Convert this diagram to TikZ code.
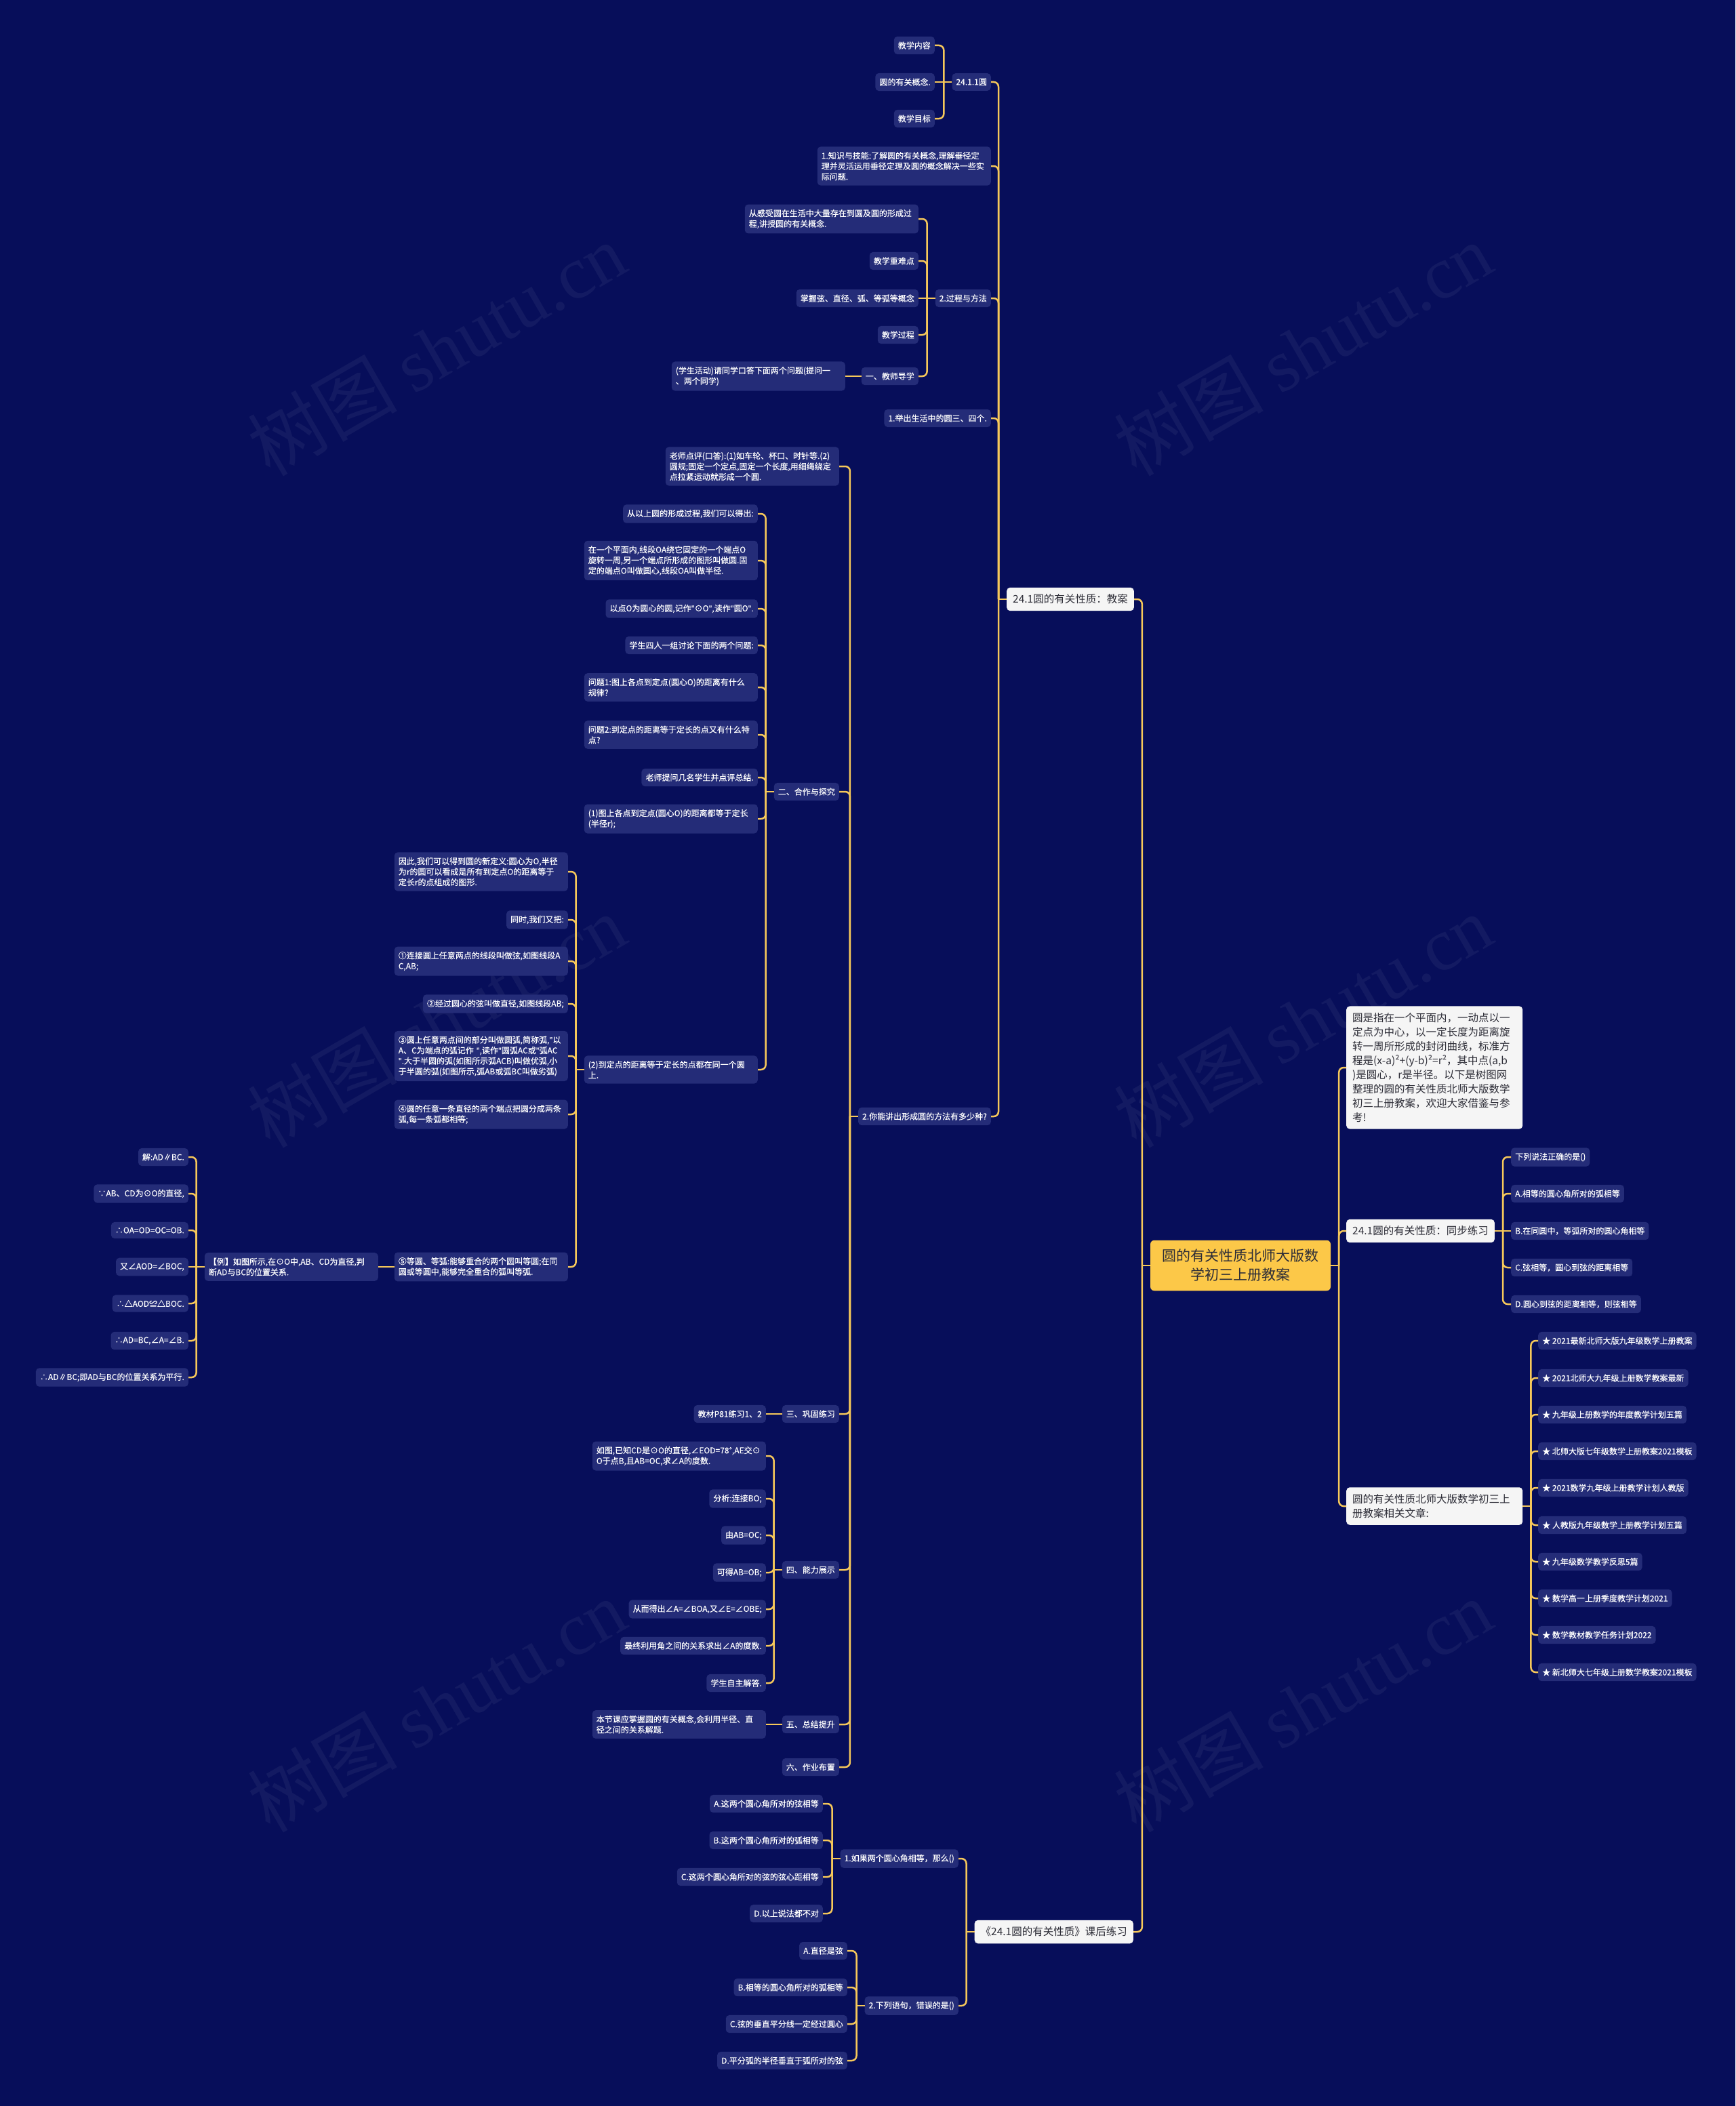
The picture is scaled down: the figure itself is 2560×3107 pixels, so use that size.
\documentclass[tikz,border=0pt]{standalone}
\usepackage{fontspec}
\setmainfont{Noto Sans CJK SC}
\newfontfamily\nf{Noto Sans CJK SC}[FakeBold=0.3]
\newfontfamily\latinf{Noto Sans}[FakeBold=0.3]
\newfontfamily\wmfont{Liberation Serif}
\newcommand\dq{{\latinf\symbol{34}}}
\definecolor{bg}{RGB}{7,14,90}
\definecolor{nodebg}{RGB}{36,44,120}
\definecolor{ln}{RGB}{246,200,90}
\definecolor{rootbg}{RGB}{252,200,72}
\definecolor{wbg}{RGB}{245,245,245}
\definecolor{dark}{RGB}{45,45,55}
\newcommand\linkL[2]{\draw[conn] (#2.east) -| ([xshift=-12pt]#1.west);}
\newcommand\linkR[2]{\draw[conn] (#2.west) -| ([xshift=12pt]#1.east);}
\newcommand\linkSL[2]{\draw[conn] (#2.east) -- ([xshift=-12pt]#1.west);}
\newcommand\linkSR[2]{\draw[conn] (#2.west) -- ([xshift=12pt]#1.east);}
\newcommand\stemL[1]{\draw[conn] (#1.west) -- ([xshift=-12pt]#1.west);}
\newcommand\stemR[1]{\draw[conn] (#1.east) -- ([xshift=12pt]#1.east);}
\begin{document}
\begin{tikzpicture}[x=1pt,y=-1pt,
 box/.style={fill=nodebg,text=white,rounded corners=5pt,inner xsep=6pt,inner ysep=7.5pt,font=\nf\fontsize{12}{15.5}\selectfont},
 lbox/.style={box,anchor=east},
 rbox/.style={box,anchor=west},
 wide/.style={text width=244pt,align=left},
 wnode/.style={fill=wbg,text=dark,rounded corners=5pt,inner xsep=9pt,inner ysep=10pt,font=\fontsize{15.5}{21}\selectfont},
 rootst/.style={fill=rootbg,text=dark,rounded corners=6pt,text width=232pt,align=center,inner xsep=17pt,inner ysep=13.5pt,font=\fontsize{21}{28}\selectfont},
 conn/.style={draw=ln,line width=2.5pt,rounded corners=7pt},
 wm/.style={text=white,opacity=0.05,rotate=30,font=\fontsize{110}{110}\selectfont}
]
\useasboundingbox (0,0) rectangle (2560,3107);
\fill[bg] (0,0) rectangle (2560,3107);
% watermarks
\node[wm] (wm1) at (644,515) {树图 {\wmfont shutu.cn}};
\node[wm] (wm2) at (1922,515) {树图 {\wmfont shutu.cn}};
\node[wm] (wm3) at (644,1506) {树图 {\wmfont shutu.cn}};
\node[wm] (wm4) at (1922,1506) {树图 {\wmfont shutu.cn}};
\node[wm] (wm5) at (644,2516) {树图 {\wmfont shutu.cn}};
\node[wm] (wm6) at (1922,2516) {树图 {\wmfont shutu.cn}};

% root
\node[rootst] (root) at (1830,1867) {圆的有关性质北师大版数\\学初三上册教案};

% main branches
\node[wnode,anchor=east] (ja) at (1673,884) {24.1圆的有关性质：教案};
\node[wnode,anchor=east] (kh) at (1672,2850) {《24.1圆的有关性质》课后练习};
\node[wnode,anchor=west,text width=242pt,align=left] (ys) at (1986,1575) {圆是指在一个平面内，一动点以一\\定点为中心，以一定长度为距离旋\\转一周所形成的封闭曲线，标准方\\程是(x-a)²+(y-b)²=r²，其中点(a,b\\)是圆心，r是半径。以下是树图网\\整理的圆的有关性质北师大版数学\\初三上册教案，欢迎大家借鉴与参\\考!};
\node[wnode,anchor=west] (tb) at (1986,1816) {24.1圆的有关性质：同步练习};
\node[wnode,anchor=west,text width=242pt,align=left] (xg) at (1986,2222) {圆的有关性质北师大版数学初三上\\册教案相关文章:};

% under 教案
\node[lbox] (a1) at (1462,121) {24.1.1圆};
\node[lbox] (a11) at (1379,67) {教学内容};
\node[lbox] (a12) at (1379,121) {圆的有关概念.};
\node[lbox] (a13) at (1379,175) {教学目标};
\node[lbox,wide] (a2) at (1462,245) {1.知识与技能:了解圆的有关概念,理解垂径定\\理并灵活运用垂径定理及圆的概念解决一些实\\际问题.};
\node[lbox] (a3) at (1462,440) {2.过程与方法};
\node[lbox,wide] (a31) at (1355,323) {从感受圆在生活中大量存在到圆及圆的形成过\\程,讲授圆的有关概念.};
\node[lbox] (a32) at (1355,385) {教学重难点};
\node[lbox] (a33) at (1355,440) {掌握弦、直径、弧、等弧等概念};
\node[lbox] (a34) at (1355,494) {教学过程};
\node[lbox] (a35) at (1355,555) {一、教师导学};
\node[lbox,wide] (a351) at (1247,555) {(学生活动)请同学口答下面两个问题(提问一\\、两个同学)};
\node[lbox] (a4) at (1462,617) {1.举出生活中的圆三、四个.};
\node[lbox] (a5) at (1462,1647) {2.你能讲出形成圆的方法有多少种?};

% under a5
\node[lbox,wide] (b1) at (1238,688) {老师点评(口答):(1)如车轮、杯口、时针等.(2)\\圆规;固定一个定点,固定一个长度,用细绳绕定\\点拉紧运动就形成一个圆.};
\node[lbox] (b2) at (1238,1168) {二、合作与探究};
\node[lbox] (b3) at (1238,2086) {三、巩固练习};
\node[lbox] (b4) at (1238,2316) {四、能力展示};
\node[lbox] (b5) at (1238,2544) {五、总结提升};
\node[lbox] (b6) at (1238,2607) {六、作业布置};

% under b2
\node[lbox] (c1) at (1118,758) {从以上圆的形成过程,我们可以得出:};
\node[lbox,wide] (c2) at (1118,827) {在一个平面内,线段OA绕它固定的一个端点O\\旋转一周,另一个端点所形成的图形叫做圆.固\\定的端点O叫做圆心,线段OA叫做半径.};
\node[lbox] (c3) at (1118,898) {以点O为圆心的圆,记作\dq⊙O\dq,读作\dq 圆O\dq.};
\node[lbox] (c4) at (1118,952) {学生四人一组讨论下面的两个问题:};
\node[lbox,wide] (c5) at (1118,1014) {问题1:图上各点到定点(圆心O)的距离有什么\\规律?};
\node[lbox,wide] (c6) at (1118,1084) {问题2:到定点的距离等于定长的点又有什么特\\点?};
\node[lbox] (c7) at (1118,1147) {老师提问几名学生并点评总结.};
\node[lbox,wide] (c8) at (1118,1208) {(1)图上各点到定点(圆心O)的距离都等于定长\\(半径r);};
\node[lbox,wide] (c9) at (1118,1578) {(2)到定点的距离等于定长的点都在同一个圆\\上.};

% under c9
\node[lbox,wide] (d1) at (838,1286) {因此,我们可以得到圆的新定义:圆心为O,半径\\为r的圆可以看成是所有到定点O的距离等于\\定长r的点组成的图形.};
\node[lbox] (d2) at (838,1357) {同时,我们又把:};
\node[lbox,wide] (d3) at (838,1418) {①连接圆上任意两点的线段叫做弦,如图线段A\\C,AB;};
\node[lbox] (d4) at (838,1481) {②经过圆心的弦叫做直径,如图线段AB;};
\node[lbox,wide] (d5) at (838,1558) {③圆上任意两点间的部分叫做圆弧,简称弧,\dq 以\\A、C为端点的弧记作~\dq,读作\dq 圆弧AC或\dq 弧AC\\\dq.大于半圆的弧(如图所示弧ACB)叫做优弧,小\\于半圆的弧(如图所示,弧AB或弧BC叫做劣弧)};
\node[lbox,wide] (d6) at (838,1644) {④圆的任意一条直径的两个端点把圆分成两条\\弧,每一条弧都相等;};
\node[lbox,wide] (d7) at (838,1869) {⑤等圆、等弧:能够重合的两个圆叫等圆;在同\\圆或等圆中,能够完全重合的弧叫等弧.};

% example
\node[lbox,wide] (e) at (558,1869) {【例】如图所示,在⊙O中,AB、CD为直径,判\\断AD与BC的位置关系.};
\node[lbox] (f1) at (278,1707) {解:AD∥BC.};
\node[lbox] (f2) at (278,1761) {∵AB、CD为⊙O的直径,};
\node[lbox] (f3) at (278,1815) {∴OA=OD=OC=OB.};
\node[lbox] (f4) at (278,1869) {又∠AOD=∠BOC,};
\node[lbox] (f5) at (278,1923) {∴△AOD≌△BOC.};
\node[lbox] (f6) at (278,1978) {∴AD=BC,∠A=∠B.};
\node[lbox] (f7) at (278,2032) {∴AD∥BC;即AD与BC的位置关系为平行.};

% under b3,b4,b5
\node[lbox] (g1) at (1130,2086) {教材P81练习1、2};
\node[lbox,wide] (h1) at (1130,2148) {如图,已知CD是⊙O的直径,∠EOD=78°,AE交⊙\\O于点B,且AB=OC,求∠A的度数.};
\node[lbox] (h2) at (1130,2211) {分析:连接BO;};
\node[lbox] (h3) at (1130,2265) {由AB=OC;};
\node[lbox] (h4) at (1130,2320) {可得AB=OB;};
\node[lbox] (h5) at (1130,2374) {从而得出∠A=∠BOA,又∠E=∠OBE;};
\node[lbox] (h6) at (1130,2428) {最终利用角之间的关系求出∠A的度数.};
\node[lbox] (h7) at (1130,2483) {学生自主解答.};
\node[lbox,wide] (i1) at (1130,2544) {本节课应掌握圆的有关概念,会利用半径、直\\径之间的关系解题.};

% 课后练习
\node[lbox] (k1) at (1414,2742) {1.如果两个圆心角相等，那么()};
\node[lbox] (k2) at (1414,2959) {2.下列语句，错误的是()};
\node[lbox] (k11) at (1214,2661) {A.这两个圆心角所对的弦相等};
\node[lbox] (k12) at (1214,2715) {B.这两个圆心角所对的弧相等};
\node[lbox] (k13) at (1214,2769) {C.这两个圆心角所对的弦的弦心距相等};
\node[lbox] (k14) at (1214,2823) {D.以上说法都不对};
\node[lbox] (k21) at (1250,2878) {A.直径是弦};
\node[lbox] (k22) at (1250,2932) {B.相等的圆心角所对的弧相等};
\node[lbox] (k23) at (1250,2986) {C.弦的垂直平分线一定经过圆心};
\node[lbox] (k24) at (1250,3040) {D.平分弧的半径垂直于弧所对的弦};

% right side
\node[rbox] (t1) at (2229,1707) {下列说法正确的是()};
\node[rbox] (t2) at (2229,1761) {A.相等的圆心角所对的弧相等};
\node[rbox] (t3) at (2229,1816) {B.在同圆中，等弧所对的圆心角相等};
\node[rbox] (t4) at (2229,1870) {C.弦相等，圆心到弦的距离相等};
\node[rbox] (t5) at (2229,1924) {D.圆心到弦的距离相等，则弦相等};
\node[rbox] (s1) at (2269,1978) {★ 2021最新北师大版九年级数学上册教案};
\node[rbox] (s2) at (2269,2033) {★ 2021北师大九年级上册数学教案最新};
\node[rbox] (s3) at (2269,2087) {★ 九年级上册数学的年度教学计划五篇};
\node[rbox] (s4) at (2269,2141) {★ 北师大版七年级数学上册教案2021模板};
\node[rbox] (s5) at (2269,2195) {★ 2021数学九年级上册教学计划人教版};
\node[rbox] (s6) at (2269,2250) {★ 人教版九年级数学上册教学计划五篇};
\node[rbox] (s7) at (2269,2304) {★ 九年级数学教学反思5篇};
\node[rbox] (s8) at (2269,2358) {★ 数学高一上册季度教学计划2021};
\node[rbox] (s9) at (2269,2412) {★ 数学教材教学任务计划2022};
\node[rbox] (s10) at (2269,2467) {★ 新北师大七年级上册数学教案2021模板};

% connectors
\stemL{root} \linkL{root}{ja} \linkL{root}{kh}
\stemR{root} \linkR{root}{ys} \linkR{root}{tb} \linkR{root}{xg}
\stemL{ja} \foreach \c in {a1,a2,a3,a4,a5} {\linkL{ja}{\c}}
\stemL{a1} \linkL{a1}{a11} \linkSL{a1}{a12} \linkL{a1}{a13}
\stemL{a3} \foreach \c in {a31,a32,a34,a35} {\linkL{a3}{\c}} \linkSL{a3}{a33}
\linkSL{a35}{a351} \stemL{a35}
\stemL{a5} \foreach \c in {b1,b2,b3,b4,b5,b6} {\linkL{a5}{\c}}
\stemL{b2} \foreach \c in {c1,c2,c3,c4,c5,c6,c7,c8,c9} {\linkL{b2}{\c}}
\stemL{c9} \foreach \c in {d1,d2,d3,d4,d5,d6,d7} {\linkL{c9}{\c}}
\stemL{d7} \linkSL{d7}{e}
\stemL{e} \foreach \c in {f1,f2,f3,f5,f6,f7} {\linkL{e}{\c}} \linkSL{e}{f4}
\stemL{b3} \linkSL{b3}{g1}
\stemL{b4} \foreach \c in {h1,h2,h3,h4,h5,h6,h7} {\linkL{b4}{\c}}
\stemL{b5} \linkSL{b5}{i1}
\stemL{kh} \linkL{kh}{k1} \linkL{kh}{k2}
\stemL{k1} \foreach \c in {k11,k12,k13,k14} {\linkL{k1}{\c}}
\stemL{k2} \foreach \c in {k21,k22,k23,k24} {\linkL{k2}{\c}}
\stemR{tb} \foreach \c in {t1,t2,t4,t5} {\linkR{tb}{\c}} \linkSR{tb}{t3}
\stemR{xg} \foreach \c in {s1,s2,s3,s4,s5,s6,s7,s8,s9,s10} {\linkR{xg}{\c}}
\end{tikzpicture}
\end{document}
